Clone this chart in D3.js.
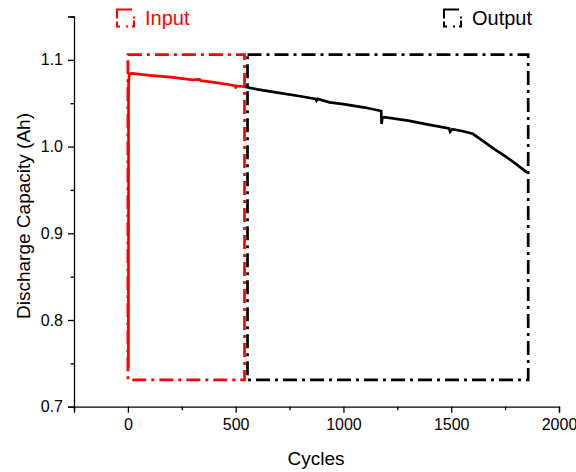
<!DOCTYPE html>
<html>
<head>
<meta charset="utf-8">
<script src="https://cdn.jsdelivr.net/npm/d3@7"></script>
<style>
  body { margin: 0; background: #fff; }
  svg { font-family: Arial, "Liberation Sans", sans-serif; }
</style>
</head>
<body>
<svg width="576" height="472"></svg>
<script>
// input part of the run (red)
const inputCycles = [2, 3, 3, 5, 8, 20, 100, 200, 300, 330, 340, 400, 480, 498, 500, 503, 542];
const inputCap = [0.745, 0.9, 1.072, 1.08, 1.084, 1.0845, 1.082, 1.08, 1.077, 1.0775, 1.076, 1.074, 1.071, 1.07, 1.067, 1.07, 1.069];

// output part (black)
const outputCycles = [542, 600, 672, 800, 870, 875, 880, 936, 1000, 1100, 1175, 1177, 1180, 1190, 1300, 1400, 1490, 1495, 1505, 1550, 1600, 1650, 1700, 1750, 1800, 1852];
const outputCap = [1.069, 1.066, 1.063, 1.058, 1.055, 1.053, 1.055, 1.051, 1.049, 1.045, 1.041, 1.026, 1.033, 1.034, 1.030, 1.025, 1.021, 1.017, 1.020, 1.018, 1.0147, 1.006, 0.997, 0.989, 0.980, 0.970];

// the two dash-dot boxes: [cycle from, cycle to, cap low, cap high]
const inputBox = [0, 541, 0.731, 1.106];
const outputBox = [555, 1857, 0.731, 1.106];

const xTicks = [0, 500, 1000, 1500, 2000];
const xMinor = [-250, 250, 750, 1250, 1750];
const yTicks = [0.7, 0.8, 0.9, 1.0, 1.1];
const yMinor = [0.75, 0.85, 0.95, 1.05, 1.15];

const svg = d3.select("svg");

const x = d3.scaleLinear().domain([-250, 2000]).range([74, 559]);
const y = d3.scaleLinear().domain([0.7, 1.15]).range([406.7, 16.5]);

const dash = "14,5,3,5";

// axes
svg.append("g")
    .attr("transform", "translate(0,406.7)")
    .call(d3.axisBottom(x).tickValues(xTicks).tickSize(6).tickPadding(6).tickFormat(d3.format("d")))
    .call(g => g.selectAll("text").attr("font-size", 16).attr("fill", "#000"))
    .call(g => g.select(".domain").attr("stroke-width", 1.3));
svg.append("g")
    .attr("transform", "translate(0,406.7)")
    .call(d3.axisBottom(x).tickValues(xMinor).tickSize(3.5).tickFormat(""))
    .call(g => g.select(".domain").remove());

svg.append("g")
    .attr("transform", "translate(74,0)")
    .call(d3.axisLeft(y).tickValues(yTicks).tickSize(6).tickPadding(5).tickFormat(d3.format(".1f")))
    .call(g => g.selectAll("text").attr("font-size", 16).attr("fill", "#000"))
    .call(g => g.select(".domain").attr("stroke-width", 1.3));
svg.append("g")
    .attr("transform", "translate(74,0)")
    .call(d3.axisLeft(y).tickValues(yMinor).tickSize(3.5).tickFormat(""))
    .call(g => g.select(".domain").remove());

svg.selectAll(".tick line").attr("stroke-width", 1.3);

// axis titles
svg.append("text")
    .attr("x", 316).attr("y", 465)
    .attr("text-anchor", "middle")
    .attr("font-size", 19)
    .text("Cycles");
svg.append("text")
    .attr("transform", "translate(30,216) rotate(-90)")
    .attr("text-anchor", "middle")
    .attr("font-size", 19)
    .text("Discharge Capacity (Ah)");

// boxes
function box(b, color) {
    svg.append("rect")
        .attr("x", x(b[0]))
        .attr("y", y(b[3]))
        .attr("width", x(b[1]) - x(b[0]))
        .attr("height", y(b[2]) - y(b[3]))
        .attr("fill", "none")
        .attr("stroke", color)
        .attr("stroke-width", 2.7)
        .attr("stroke-dasharray", dash);
}
box(inputBox, "#ff0000");
box(outputBox, "#000");

// lines
const line = d3.line().x(d => x(d[0])).y(d => y(d[1]));

svg.append("path")
    .datum(outputCycles.map((c, i) => [c, outputCap[i]]))
    .attr("d", line)
    .attr("fill", "none")
    .attr("stroke", "#000")
    .attr("stroke-width", 2.7);

svg.append("path")
    .datum(inputCycles.map((c, i) => [c, inputCap[i]]))
    .attr("d", line)
    .attr("fill", "none")
    .attr("stroke", "#ff0000")
    .attr("stroke-width", 2.7);

// legend - little dash-dot box like origin draws it
function legendItem(lx, label, color) {
    svg.append("rect")
        .attr("x", lx).attr("y", 9.5)
        .attr("width", 17).attr("height", 17)
        .attr("fill", "none")
        .attr("stroke", color)
        .attr("stroke-width", 2)
        .attr("stroke-dasharray", "15,9,2,2,8,4,2,6,8,3,9");
    svg.append("text")
        .attr("x", lx + 28).attr("y", 25)
        .attr("font-size", 20)
        .attr("fill", color)
        .text(label);
}
legendItem(117, "Input", "#ff0000");
legendItem(444, "Output", "#000");
</script>
</body>
</html>
